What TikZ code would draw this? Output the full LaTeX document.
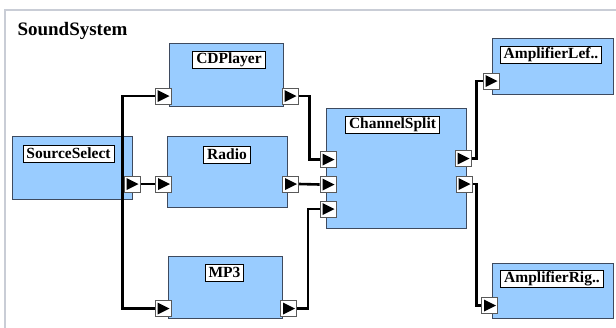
\documentclass[tikz,border=0pt]{standalone}
\usepackage{fontspec}
\setmainfont{Liberation Serif}
\pgfdeclarelayer{back}
\pgfdeclarelayer{wires}
\pgfsetlayers{back,wires,main}
\definecolor{blockblue}{HTML}{99CCFF}
\definecolor{blockedge}{HTML}{3E4A5E}
\definecolor{frame}{HTML}{C9CDD6}
\tikzset{
  block/.style={draw=blockedge, line width=1pt, fill=blockblue, anchor=north west, inner sep=0pt},
  tag/.style={draw=black, line width=0.9pt, fill=white, inner xsep=3.5pt, inner ysep=0pt,
    minimum height=17pt, font=\fontsize{15.5}{16}\selectfont\bfseries},
  port/.style={draw=gray!70!black, line width=0.9pt, fill=white, minimum size=16pt, inner sep=0pt,
    path picture={\fill[black] ([shift={(2.5pt,-2pt)}]path picture bounding box.north west)
      -- ([shift={(-1.5pt,0pt)}]path picture bounding box.east)
      -- ([shift={(2.5pt,2pt)}]path picture bounding box.south west) -- cycle;}},
  wire/.style={line width=2.6pt, black}
}
\begin{document}
\begin{tikzpicture}[x=1pt,y=-1pt]
\useasboundingbox (0,0) rectangle (616,327);

\draw[frame, line width=1.5pt] (5,330) -- (5,10) -- (620,10); % Outline of system
\node[anchor=base west, font=\fontsize{19}{20}\selectfont\bfseries] (title) at (14,35) {SoundSystem};

% Blocks
\begin{pgfonlayer}{back}
\node[block, minimum width=120pt, minimum height=63pt] (ss) at (12,136) {};
\node[block, minimum width=114pt, minimum height=63pt] (cd) at (169,43) {};
\node[block, minimum width=120pt, minimum height=71pt] (radio) at (167,136) {};
\node[block, minimum width=114pt, minimum height=62pt] (mp3) at (168,256) {};
\node[block, minimum width=140pt, minimum height=120pt] (split) at (326,108) {};
\node[block, minimum width=121pt, minimum height=56pt] (ampl) at (492,38) {};
\node[block, minimum width=121pt, minimum height=55pt] (ampr) at (492,263) {};
\end{pgfonlayer}

% Labels
\node[tag] (ss-tag) at (68.5,153.5) {SourceSelect};
\node[tag] (cd-tag) at (229,60) {CDPlayer};
\node[tag] (radio-tag) at (227,154.5) {Radio};
\node[tag] (mp3-tag) at (224.5,272.5) {MP3};
\node[tag] (split-tag) at (392.5,125) {ChannelSplit};
\node[tag] (ampl-tag) at (551,54.5) {AmplifierLef..};
\node[tag] (ampr-tag) at (552,278.5) {AmplifierRig..};

% Ports
\node[port] (ss-out) at (132,184) {};
\node[port] (cd-in) at (163,96) {};
\node[port] (cd-out) at (290,96) {};
\node[port] (radio-in) at (163.5,184) {};
\node[port] (radio-out) at (290.5,184) {};
\node[port] (mp3-in) at (163,308.5) {};
\node[port] (mp3-out) at (288.5,308.5) {};
\node[port] (split-in1) at (328,159.5) {};
\node[port] (split-in2) at (328,184.5) {};
\node[port] (split-in3) at (328,209) {};
\node[port] (split-out1) at (463,158.5) {};
\node[port] (split-out2) at (464,184) {};
\node[port] (ampl-in) at (491,81) {};
\node[port] (ampr-in) at (489.5,305.5) {};

% Connections
\begin{pgfonlayer}{wires}
\draw[wire] (ss-out.west) ++(-1,0) |- (cd-in.west);
\draw[wire] (ss-out.west) ++(-1,0) |- (mp3-in.west);
\draw[wire] (ss-out.east) -- (radio-in.west);
\draw[wire] (cd-out.east) -- ++(11,0) |- (split-in1.west);
\draw[wire] (radio-out.east) -- (split-in2.west);
\draw[wire] (mp3-out.east) -- ++(11,0) |- (split-in3.west);
\draw[wire] (split-out1.east) -- ++(5,0) |- (ampl-in.west);
\draw[wire] (split-out2.east) -- ++(4,0) |- (ampr-in.west);
\end{pgfonlayer}

\end{tikzpicture}
\end{document}
